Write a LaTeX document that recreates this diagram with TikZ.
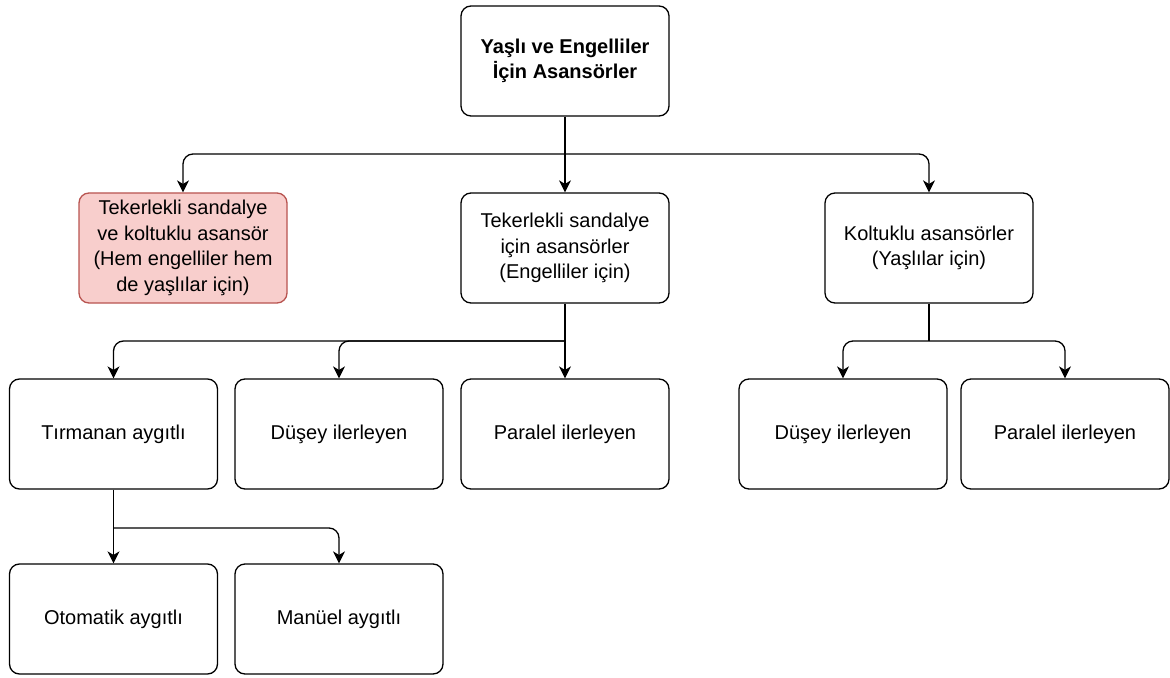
\documentclass[tikz,border=0pt]{standalone}
\usepackage{fontspec}
\setmainfont{Liberation Sans}
\usetikzlibrary{arrows.meta}
\definecolor{redfill}{HTML}{F8CECC}
\definecolor{redline}{HTML}{B85450}
\tikzset{
  box/.style = {draw, rounded corners=5pt, line width=0.65pt,
                minimum width=104pt, minimum height=55pt, inner sep=2pt,
                align=center, font=\fontsize{10}{12.8}\selectfont},
  redbox/.style = {box, fill=redfill, draw=redline},
  link/.style = {-{Stealth[length=6pt,width=6pt,inset=1.8pt]},
                 line width=0.65pt, rounded corners=5pt}
}

\begin{document}
\begin{tikzpicture}[x=0.5pt, y=-0.5pt]
  \useasboundingbox (0,0) rectangle (1170,678);
  \node[box] (top) at (565,61) {\textbf{Yaşlı ve Engelliler}\\\textbf{İçin Asansörler}};
  \node[redbox] (both) at (183,248) {Tekerlekli sandalye\\ve koltuklu asansör\\(Hem engelliler hem\\de yaşlılar için)};
  \node[box] (wheel) at (565,248) {Tekerlekli sandalye\\için asansörler\\(Engelliler için)};
  \node[box] (seat) at (929,248) {Koltuklu asansörler\\(Yaşlılar için)};
  \node[box] (climb) at (113.5,434) {Tırmanan aygıtlı};
  \node[box] (vert1) at (339,434) {Düşey ilerleyen};
  \node[box] (para1) at (565,434) {Paralel ilerleyen};
  \node[box] (vert2) at (843,434) {Düşey ilerleyen};
  \node[box] (para2) at (1065,434) {Paralel ilerleyen};
  \node[box] (auto) at (113.5,619) {Otomatik aygıtlı};
  \node[box] (hand) at (339,619) {Manüel aygıtlı};
  % junctions
  \coordinate (j1) at (565,154);
  \coordinate (j2) at (565,341);
  \coordinate (j3) at (929,341);
  \coordinate (j4) at (113.5,528);
  \draw[link] (top.south) -- (wheel.north);
  \draw[link] (j1) -| (both.north);
  \draw[link] (j1) -| (seat.north);
  \draw[link] (wheel.south) -- (para1.north);
  \draw[link] (j2) -| (climb.north);
  \draw[link] (j2) -| (vert1.north);
  \draw[link, -] (seat.south) -- (j3);
  \draw[link] (j3) -| (vert2.north);
  \draw[link] (j3) -| (para2.north);
  \draw[link] (climb.south) -- (auto.north);
  \draw[link] (j4) -| (hand.north);
\end{tikzpicture}
\end{document}
